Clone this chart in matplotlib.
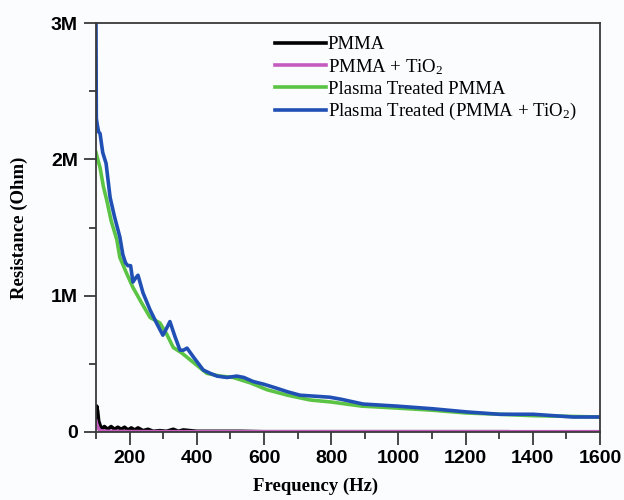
import numpy as np
from matplotlib import pyplot as plt
from matplotlib.ticker import FuncFormatter, MultipleLocator

plt.rcParams["mathtext.fontset"] = "custom"
plt.rcParams["mathtext.rm"] = "Liberation Serif"
plt.rcParams["mathtext.it"] = "Liberation Serif:italic"
plt.rcParams["mathtext.bf"] = "Liberation Serif:bold"

# resistance values in MOhm
freqPmma = [100, 102, 105, 108, 112, 118, 125, 135, 145, 155, 165, 175, 185, 195,
            205, 215, 225, 240, 255, 270, 290, 310, 330, 345, 360, 400, 450, 530,
            600, 800, 1000, 1200, 1325]
resPmma = [0.05, 0.19, 0.15, 0.08, 0.05, 0.02, 0.04, 0.02, 0.04, 0.02, 0.035, 0.02,
           0.035, 0.015, 0.03, 0.015, 0.03, 0.01, 0.02, 0.005, 0.01, 0.005, 0.02,
           0.005, 0.015, 0.005, 0.005, 0.005, 0.002, 0.002, 0.002, 0.002, 0.002]

freqTio2 = [100, 102, 106, 112, 130, 200, 400, 800, 1200, 1600]
resTio2 = [0.08, 0.06, 0.03, 0.01, 0.005, 0.003, 0.002, 0.002, 0.002, 0.002]

freqPlasma = [100, 103, 112, 122, 132, 145, 162, 171, 190, 210, 235, 261, 290, 310,
              330, 355, 380, 430, 470, 508, 560, 609, 670, 737, 800, 890, 1000, 1100,
              1200, 1300, 1400, 1500, 1600]
resPlasma = [2.05, 2.02, 1.94, 1.80, 1.70, 1.55, 1.41, 1.28, 1.17, 1.06, 0.95, 0.84,
             0.80, 0.72, 0.62, 0.58, 0.53, 0.43, 0.41, 0.40, 0.36, 0.31, 0.27, 0.235,
             0.22, 0.19, 0.175, 0.16, 0.14, 0.13, 0.12, 0.115, 0.11]

freqPlasmaTio2 = [100, 100.5, 101, 104, 108, 112, 120, 130, 142, 155, 171, 180, 188,
                  195, 203, 210, 218, 225, 240, 261, 280, 299, 310, 320, 335, 350, 360,
                  371, 390, 419, 440, 460, 490, 519, 540, 568, 600, 639, 670, 707, 767,
                  796, 830, 895, 995, 1104, 1204, 1302, 1401, 1460, 1520, 1600]
resPlasmaTio2 = [3.0, 2.6, 2.3, 2.25, 2.2, 2.19, 2.05, 1.97, 1.72, 1.58, 1.43, 1.30,
                 1.24, 1.22, 1.22, 1.10, 1.13, 1.15, 1.02, 0.895, 0.80, 0.71, 0.76,
                 0.81, 0.70, 0.60, 0.60, 0.615, 0.55, 0.455, 0.43, 0.41, 0.40, 0.41,
                 0.40, 0.37, 0.35, 0.32, 0.295, 0.27, 0.26, 0.255, 0.24, 0.205, 0.19,
                 0.17, 0.147, 0.13, 0.13, 0.12, 0.11, 0.11]

labels = ["PMMA", r"PMMA + TiO$_\mathrm{2}$", "Plasma Treated PMMA",
          r"Plasma Treated (PMMA + TiO$_\mathrm{2}$)"]
colors = ["#000000", "#c45cc0", "#5cc444", "#2150b4"]

bg = "#fbfcfe"
fig = plt.figure(figsize=(6.24, 5.0), dpi=100, facecolor=bg)
ax = fig.add_axes([96 / 624, 1 - 432 / 500, 504 / 624, 409 / 500], facecolor=bg)

series = [(freqPmma, resPmma), (freqTio2, resTio2), (freqPlasma, resPlasma),
          (freqPlasmaTio2, resPlasmaTio2)]
for (f, r), lab, col in zip(series, labels, colors):
    ax.plot(f, np.array(r) * 1e6, color=col, lw=2.6, label=lab)

ax.set_xlim(100, 1600)
ax.set_ylim(0, 3e6)
ax.xaxis.set_major_locator(MultipleLocator(200))
ax.xaxis.set_minor_locator(MultipleLocator(100))
ax.yaxis.set_major_locator(MultipleLocator(1e6))
ax.yaxis.set_minor_locator(MultipleLocator(5e5))
ax.yaxis.set_major_formatter(FuncFormatter(lambda v, p: "0" if v == 0 else f"{int(round(v / 1e6))}M"))

for s in ax.spines.values():
    s.set_color("#3a3a3a")
    s.set_linewidth(1.3)
ax.tick_params(which="both", direction="out", color="#3a3a3a", width=1.3)
ax.tick_params(which="major", length=9, pad=4)
ax.tick_params(which="minor", length=5)
for t in ax.get_xticklabels() + ax.get_yticklabels():
    t.set_fontfamily("Liberation Sans")
    t.set_fontweight("bold")
    t.set_fontsize(14)

ax.set_xlabel("Frequency (Hz)", fontfamily="Liberation Serif", fontweight="bold",
              fontsize=13.5)
ax.xaxis.set_label_coords(0.435, -0.112)
ax.set_ylabel("Resistance (Ohm)", fontfamily="Liberation Serif", fontweight="bold",
              fontsize=13.5)
ax.yaxis.set_label_coords(-0.135, 0.5)

leg = ax.legend(loc="upper left", bbox_to_anchor=(0.33, 1.0), frameon=False,
                prop={"family": "Liberation Serif", "size": 13.5},
                handlelength=2.7, handletextpad=0.1, labelspacing=0.2,
                borderaxespad=0.3)

fig.savefig("out.png", dpi=100, facecolor=bg)
